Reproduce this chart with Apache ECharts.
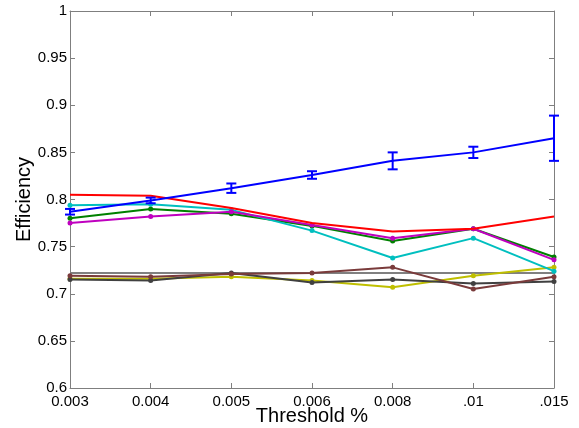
<!DOCTYPE html>
<html>
<head>
<meta charset="utf-8">
<script src="https://cdn.jsdelivr.net/npm/echarts@6/dist/echarts.min.js"></script>
<style>
  html, body { margin: 0; padding: 0; background: #fff; }
  #chart { width: 579px; height: 428px; }
</style>
</head>
<body>
<div id="chart"></div>
<script>
const thresholds = ['0.003', '0.004', '0.005', '0.006', '0.008', '.01', '.015']

const blueVals = [0.787, 0.799, 0.812, 0.826, 0.841, 0.850, 0.865]
const blueErr = [0.003, 0.003, 0.005, 0.004, 0.009, 0.006, 0.024]
const redVals = [0.805, 0.804, 0.791, 0.775, 0.766, 0.769, 0.782]
const cyanVals = [0.794, 0.795, 0.789, 0.767, 0.738, 0.759, 0.724]
const greenVals = [0.780, 0.790, 0.785, 0.772, 0.756, 0.769, 0.739]
const magentaVals = [0.775, 0.782, 0.787, 0.773, 0.759, 0.769, 0.736]
const baseVals = [0.722, 0.722, 0.722, 0.722, 0.722, 0.722, 0.722]
const darkVals = [0.715, 0.714, 0.722, 0.712, 0.715, 0.711, 0.713]
const brownVals = [0.719, 0.718, 0.721, 0.722, 0.728, 0.705, 0.718]
const yellowVals = [0.716, 0.716, 0.718, 0.714, 0.707, 0.719, 0.728]

const chart = echarts.init(document.getElementById('chart'))

const font = 'Liberation Sans, Arial, sans-serif'
const axisLine = { show: true, lineStyle: { color: '#7f7f7f', width: 1 } }
const tickIn = { show: true, inside: true, length: 5, lineStyle: { color: '#7f7f7f' } }
const labelFont = { color: '#000', fontSize: 15, fontFamily: font }

const line = (data, color, z, withSym = true) => ({
  type: 'line',
  data,
  z,
  symbol: withSym ? 'circle' : 'none',
  symbolSize: 5,
  lineStyle: { color, width: 2 },
  itemStyle: { color },
})

chart.setOption({
  animation: false,
  grid: { left: 70, right: 25, top: 11, bottom: 40, containLabel: false, outerBoundsMode: 'none' },
  xAxis: [
    {
      type: 'category',
      data: thresholds,
      boundaryGap: false,
      axisLine,
      axisTick: tickIn,
      axisLabel: { ...labelFont, margin: 6 },
      splitLine: { show: false },
      name: 'Threshold %',
      nameLocation: 'middle',
      nameGap: 18,
      nameMoveOverlap: false,
      nameTextStyle: { color: '#000', fontSize: 20, fontFamily: font },
    },
    {
      type: 'category',
      data: thresholds,
      boundaryGap: false,
      position: 'top',
      axisLine,
      axisTick: tickIn,
      axisLabel: { show: false },
    },
  ],
  yAxis: [
    {
      type: 'value',
      min: 0.6,
      max: 1,
      interval: 0.05,
      axisLine,
      axisTick: tickIn,
      axisLabel: { ...labelFont, margin: 3 },
      splitLine: { show: false },
      name: 'Efficiency',
      nameLocation: 'middle',
      nameGap: 36,
      nameMoveOverlap: false,
      nameTextStyle: { color: '#000', fontSize: 20, fontFamily: font },
    },
    {
      type: 'value',
      min: 0.6,
      max: 1,
      interval: 0.05,
      position: 'right',
      axisLine,
      axisTick: tickIn,
      axisLabel: { show: false },
      splitLine: { show: false },
    },
  ],
  series: [
    line(baseVals, '#808080', 1, false),
    line(yellowVals, '#bfbf00', 2),
    line(darkVals, '#404040', 3),
    line(brownVals, '#7a3b3b', 4),
    line(greenVals, '#008000', 5),
    line(cyanVals, '#00bfbf', 6),
    line(magentaVals, '#bf00bf', 7),
    line(redVals, '#ff0000', 8, false),
    line(blueVals, '#0000ff', 9, false),
    {
      type: 'custom',
      z: 10,
      data: blueVals.map((v, i) => [i, v - blueErr[i], v + blueErr[i]]),
      renderItem(params, api) {
        const lo = api.coord([api.value(0), api.value(1)])
        const hi = api.coord([api.value(0), api.value(2)])
        const w = 5
        const style = { stroke: '#0000ff', lineWidth: 2 }
        return {
          type: 'group',
          children: [
            { type: 'line', shape: { x1: lo[0], y1: lo[1], x2: hi[0], y2: hi[1] }, style },
            { type: 'line', shape: { x1: lo[0] - w, y1: lo[1], x2: lo[0] + w, y2: lo[1] }, style },
            { type: 'line', shape: { x1: hi[0] - w, y1: hi[1], x2: hi[0] + w, y2: hi[1] }, style },
          ],
        }
      },
    },
  ],
})
</script>
</body>
</html>
